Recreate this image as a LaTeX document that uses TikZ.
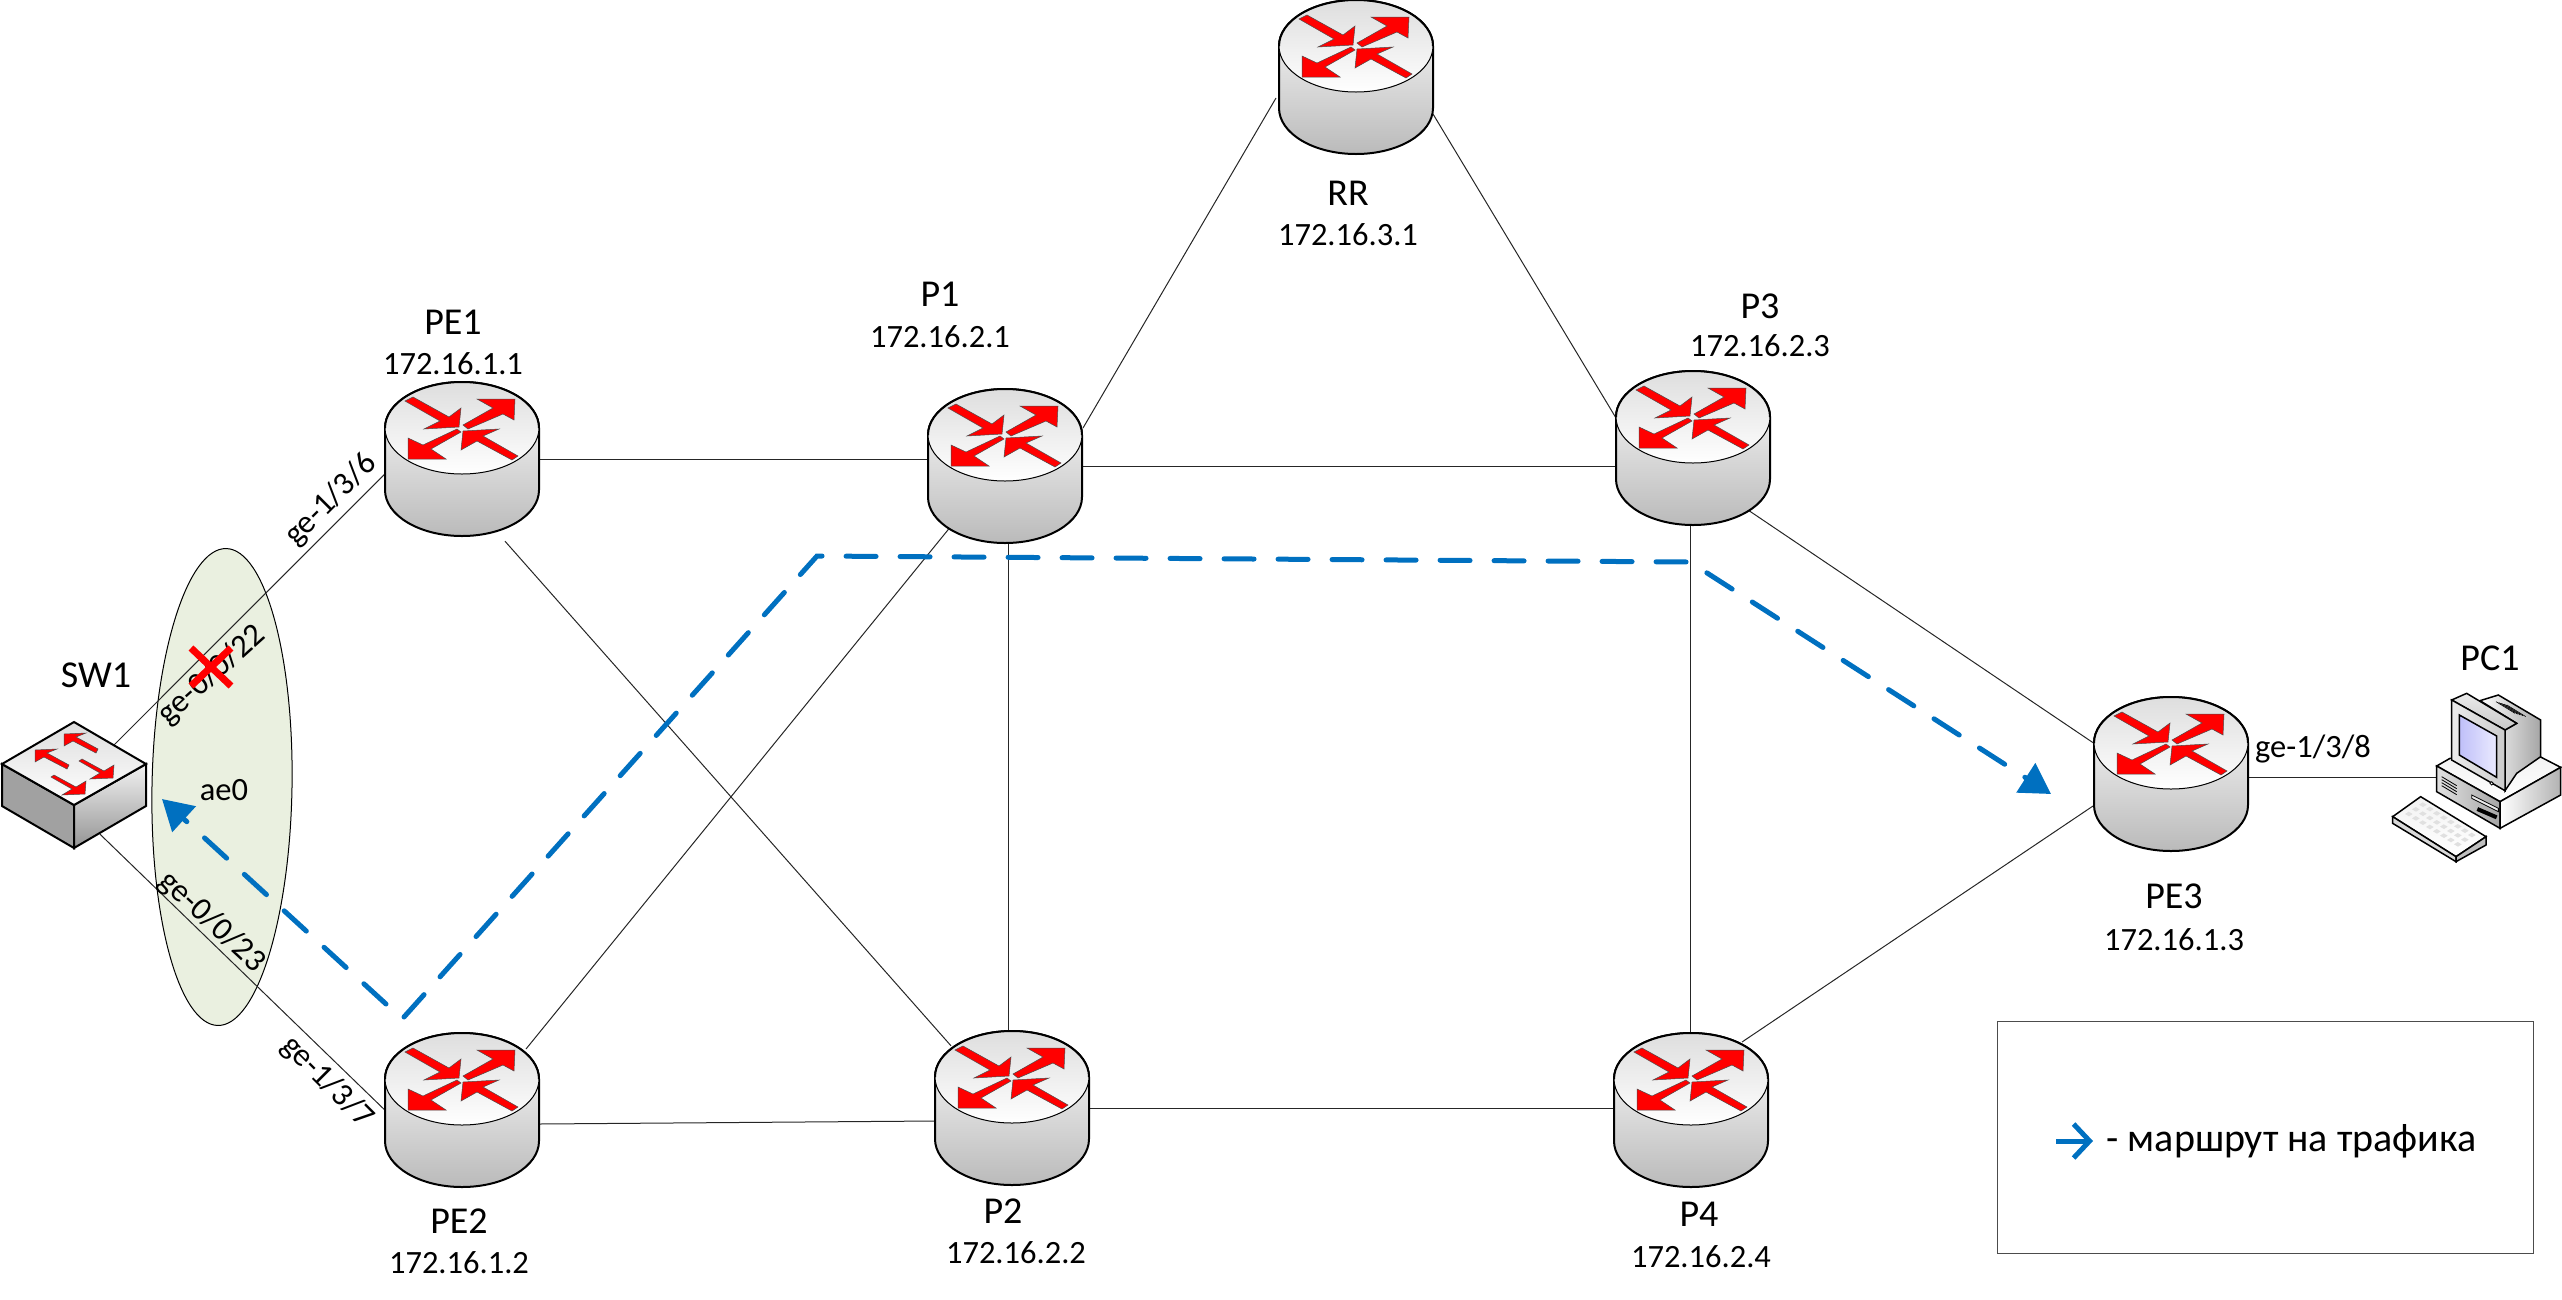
\documentclass[tikz,border=0pt]{standalone}
\usepackage{fontspec}
\setmainfont{Carlito}
\usetikzlibrary{arrows.meta,shapes.geometric}
\definecolor{routeblue}{HTML}{0070C0}
\definecolor{aegreen}{HTML}{EAF0E0}
\tikzset{
	link/.style={draw=black!85,line width=1},
	route/.style={draw=routeblue,line width=5,line cap=round,dash pattern=on 30pt off 24pt},
	routehead/.style={-{Triangle[length=30pt,width=34pt]}},
	routerbox/.style={rectangle,inner sep=0,minimum width=154pt,minimum height=152pt},
	hostname/.style={font=\fontsize{38}{44}\selectfont},
	addr/.style={font=\fontsize{32.5}{37}\selectfont},
	port/.style={font=\fontsize{32.5}{37}\selectfont},
	redarrow/.style={fill=red,draw=black!70,line width=.5},
	router/.pic={
		\shade[top color=white,middle color=white,bottom color=black!27,draw=black,line width=2]
			(-77,31) arc[start angle=180,end angle=360,x radius=77pt,y radius=46pt]
			-- (77,-31) arc[start angle=0,end angle=180,x radius=77pt,y radius=46pt] -- cycle;
		\shade[top color=black!13,bottom color=white,draw=black,line width=1]
			(0,-31) ellipse [x radius=77pt,y radius=46pt];
		\draw[line width=2] (-77,-31) arc[start angle=180,end angle=0,x radius=77pt,y radius=46pt];
		\draw[redarrow] (-49,-62) -- (-13,-42) -- (-1,-51) -- (-3,-32) -- (-38,-30) -- (-22,-38) -- (-57,-58) -- cycle;
		\draw[redarrow] (1,-34) -- (31,-51) -- (15,-60) -- (53,-60) -- (52,-39) -- (41,-45) -- (6,-30) -- cycle;
		\draw[redarrow] (-5,-30) -- (-1,-27) -- (-31,-10) -- (-16,0) -- (-54,0) -- (-54,-21) -- (-39,-14) -- cycle;
		\draw[redarrow] (56,-3) -- (50,1) -- (15,-18) -- (-1,-9) -- (1,-28) -- (37,-30) -- (21,-23) -- cycle;
	},
	switchicon/.pic={
		\shade[left color=black!37,middle color=black!6,right color=black!37,draw=black,line width=2]
			(-72,-21) -- (0,20) -- (0,63) -- (-72,21) -- cycle;
		\shade[top color=black!5,bottom color=black!42,draw=black,line width=2]
			(0,20) -- (72,-21) -- (72,21) -- (0,63) -- cycle;
		\shade[top color=black!13,bottom color=white,draw=black,line width=2]
			(0,-63) -- (72,-21) -- (0,20) -- (-72,-21) -- cycle;
		\foreach \dx/\dy in {0/0,-29/16}
			\draw[redarrow,shift={(\dx,\dy)}] (12,-52) -- (2,-48) -- (24,-36) -- (22,-32) -- (-1,-44) -- (-10,-39) -- (-10,-51) -- cycle;
		\foreach \dx/\dy in {0/0,-28/16}
			\draw[redarrow,shift={(\dx,\dy)}] (5,-24) -- (8,-26) -- (30,-14) -- (40,-20) -- (39,-7) -- (16,-6) -- (26,-12) -- cycle;
	}
}

\begin{document}
\begin{tikzpicture}[x=1pt,y=-1pt]
	\useasboundingbox (0,0) rectangle (2562,1299);

	\node[ellipse,draw=black,fill=aegreen,line width=1,rotate=-1,inner sep=0,minimum width=140pt,minimum height=477pt] (ae) at (222,787) {};

	\node[routerbox] (RR) at (1356,77) {};
	\node[routerbox] (PE1) at (462,459) {};
	\node[routerbox] (P1) at (1005,466) {};
	\node[routerbox] (P3) at (1693,448) {};
	\node[routerbox] (PE3) at (2171,774) {};
	\node[routerbox] (PE2) at (462,1110) {};
	\node[routerbox] (P2) at (1012,1108) {};
	\node[routerbox] (P4) at (1691,1110) {};
	\node[rectangle,inner sep=0,minimum width=144pt,minimum height=126pt] (SW1) at (74,785) {};
	\node[rectangle,inner sep=0,minimum width=100pt,minimum height=100pt] (PC1) at (2500,777) {};

	% links, the icons are drawn over their ends
	\draw[link] (SW1.center) -- ([yshift=-15pt]PE1.west);
	\draw[link] ([xshift=26pt,yshift=14pt]SW1.south) -- (PE2.west);
	\draw[link] (PE1.east) -- ([yshift=7pt]P1.west);
	\draw[link] ([xshift=43pt,yshift=-6pt]PE1.south) -- ([xshift=-61pt,yshift=-14pt]P2.north);
	\draw[link] ([xshift=78pt,yshift=38pt]P1.center) -- ([xshift=-80pt,yshift=-21pt]RR.center);
	\draw[link] ([xshift=77pt,yshift=-37pt]RR.center) -- ([xshift=-77pt,yshift=30pt]P3.center);
	\draw[link] (P1.east) -- ([yshift=-18pt]P3.west);
	\draw[link] ([xshift=3pt]P1.south) -- ([xshift=-4pt]P2.north);
	\draw[link] ([xshift=-49pt,yshift=-54pt]P1.center) -- ([xshift=64pt,yshift=61pt]PE2.center);
	\draw[link] ([yshift=-14pt]PE2.east) -- ([yshift=-13pt]P2.west);
	\draw[link] (P2.east) -- ([yshift=2pt]P4.west);
	\draw[link] ([xshift=-3pt]P3.south) -- ([xshift=-1pt]P4.north);
	\draw[link] ([xshift=55pt,yshift=-62pt]P3.center) -- ([xshift=-76pt,yshift=30pt]PE3.center);
	\draw[link] ([xshift=51pt,yshift=68pt]P4.center) -- ([xshift=-78pt,yshift=-32pt]PE3.center);
	\draw[link] ([yshift=-3pt]PE3.center) -- (PC1.center);

	\foreach \rname in {RR,PE1,P1,P3,PE3,PE2,P2,P4}
		\pic at (\rname) {router};
	\pic at (SW1) {switchicon};

	% PC1, in units of a third of a pixel
	\begin{scope}[shift={(2050,660)},scale=1/3,draw=black,line width=1.5]
		\shade[top color=black!5,bottom color=white,draw=black] (1160,318) -- (1200,295) -- (1470,290) -- (1532,322) -- (1350,425) -- cycle;
		\shade[left color=black!12,right color=black!35,draw=black] (1160,318) -- (1350,425) -- (1350,505) -- (1160,395) -- cycle;
		\shade[left color=white,right color=black!30,draw=black] (1350,425) -- (1532,322) -- (1532,405) -- (1350,505) -- cycle;
		\foreach \dy in {0,9,18,27}
			\draw[line width=.8] (1175,350+\dy) -- (1220,377+\dy);
		\draw[line width=.8,fill=black!8] (1265,405) -- (1345,445) -- (1345,455) -- (1265,415) -- cycle;
		\draw[line width=4] (1282,447) -- (1340,472);
		\shade[left color=white,right color=black!35,draw=black] (1365,210) -- (1400,190) -- (1290,122) -- (1345,105) -- (1472,180) -- (1472,290) -- (1400,340) -- (1365,392) -- cycle;
		\foreach \dx in {0,8,16,24,32}
			\draw[line width=.6] (1338+\dx,125+\dx*.3) -- (1395+\dx,160+\dx*.3);
		\shade[top color=black!8,bottom color=black!22,draw=black] (1205,120) -- (1250,100) -- (1400,190) -- (1365,210) -- cycle;
		\shade[left color=black!8,right color=black!20,draw=black] (1205,120) -- (1365,210) -- (1365,392) -- (1205,300) -- cycle;
		\shade[left color=black!10!blue!25,right color=blue!8,draw=black] (1228,165) -- (1340,228) -- (1340,352) -- (1228,285) -- cycle;
		\draw[line width=.8,fill=white] (1325,370) circle[radius=5pt];
		\shade[top color=black!5,bottom color=white,draw=black] (1028,470) -- (1112,410) -- (1308,530) -- (1218,590) -- cycle;
		\draw[fill=black!15] (1028,470) -- (1218,590) -- (1218,605) -- (1028,490) -- cycle;
		\draw[fill=black!25] (1218,590) -- (1308,530) -- (1308,555) -- (1218,605) -- cycle;
		\foreach \i in {0,...,7}
			\foreach \j in {0,...,2}
				\fill[black!12] (1065+\i*21+\j*21,462+\i*13-\j*14) -- ++(12,7) -- ++(11,-7) -- ++(-12,-7) -- cycle;
	\end{scope}

	\node[hostname] (lrr) at (1348,193) {RR};
	\node[addr] (arr) at (1348,235) {172.16.3.1};
	\node[hostname] (lpe1) at (453,322) {PE1};
	\node[addr] (ape1) at (453,364) {172.16.1.1};
	\node[hostname] (lp1) at (940,294) {P1};
	\node[addr] (ap1) at (940,337) {172.16.2.1};
	\node[hostname] (lp3) at (1760,306) {P3};
	\node[addr] (ap3) at (1760,346) {172.16.2.3};
	\node[hostname] (lpe3) at (2174,896) {PE3};
	\node[addr] (ape3) at (2174,940) {172.16.1.3};
	\node[hostname] (lpe2) at (459,1221) {PE2};
	\node[addr] (ape2) at (459,1263) {172.16.1.2};
	\node[hostname] (lp2) at (1003,1211) {P2};
	\node[addr] (ap2) at (1016,1253) {172.16.2.2};
	\node[hostname] (lp4) at (1699,1214) {P4};
	\node[addr] (ap4) at (1701,1257) {172.16.2.4};
	\node[hostname] (lsw1) at (96,675) {SW1};
	\node[hostname] (lpc1) at (2490,658) {PC1};

	\node[port,rotate=45] (p136) at (331,500) {ge-1/3/6};
	\node[port,rotate=42] (p022) at (212,675) {ge-0/0/22};
	\node[port] (pae0) at (224,790) {ae0};
	\node[port,rotate=-43] (p023) at (212,922) {ge-0/0/23};
	\node[port,rotate=-45] (p137) at (327,1082) {ge-1/3/7};
	\node[port] (p138) at (2313,749) {ge-1/3/8};

	% red cross over the failed link
	\coordinate (xa) at (191,648);
	\coordinate (xb) at (231,686);
	\coordinate (xc) at (231,648);
	\coordinate (xd) at (191,686);
	\draw[red,line width=7] (xa) -- (xb);
	\draw[red,line width=7] (xc) -- (xd);

	% traffic path
	\coordinate (ra) at (404,1017);
	\coordinate (rb) at (817,556);
	\coordinate (rc) at (1690,562);
	\coordinate (rd) at (2051,794);
	\coordinate (re) at (386,1004);
	\coordinate (rf) at (162,799);
	\draw[route,routehead] (ra) -- (rb) -- (rc) -- (rd);
	\draw[route,routehead] (re) -- (rf);

	% legend
	\node[rectangle,draw=black!70,line width=1,inner sep=0,minimum width=536pt,minimum height=232pt] (legend) at (2265,1137) {};
	\coordinate (la) at (2056,1141);
	\coordinate (lb) at (2093,1141);
	\draw[routeblue,line width=5,-{Straight Barb[length=16pt,width=34pt]}] (la) -- (lb);
	\node[font=\fontsize{40}{46}\selectfont,anchor=west] (ltext) at (2103,1141) {- маршрут на трафика};
\end{tikzpicture}
\end{document}
